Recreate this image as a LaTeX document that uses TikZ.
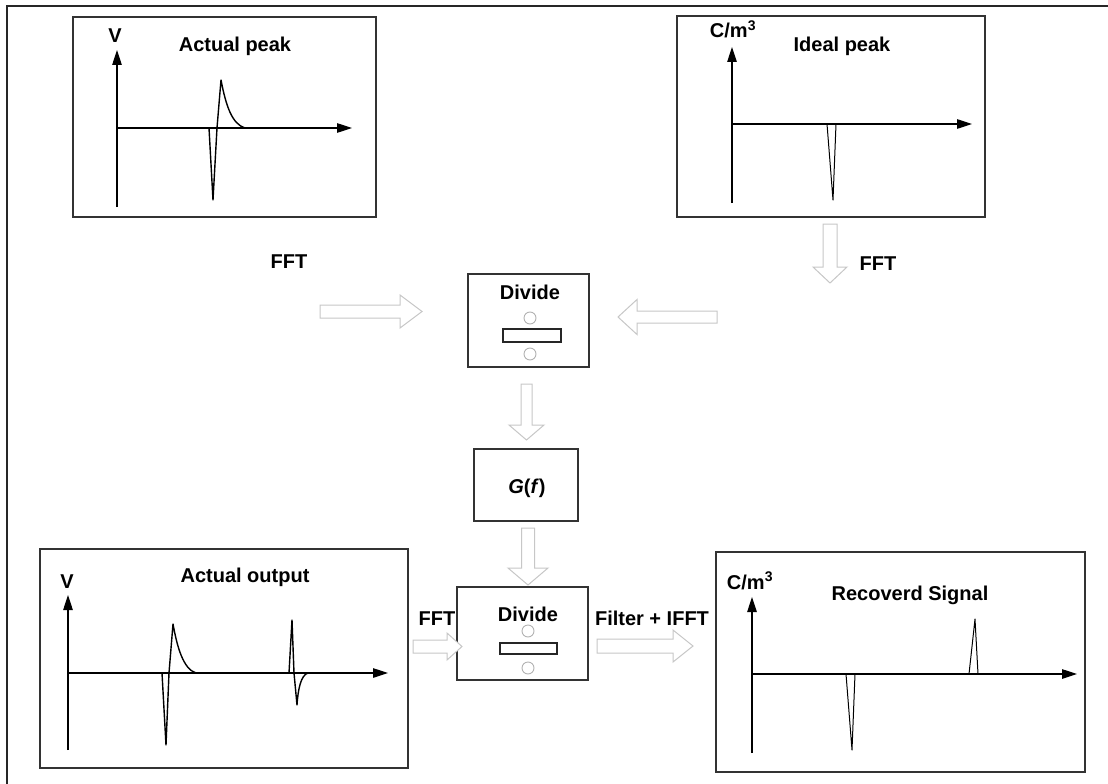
\documentclass[tikz,border=0pt]{standalone}
\usepackage{fontspec}
\setmainfont{Liberation Sans}
\usetikzlibrary{calc,arrows.meta}

% hollow block arrow: tail, tip, half shaft width, half head width, head length
\newcommand\hollowarrow[5]{%
  \coordinate (hs) at ($(#2)!#5!(#1)$);
  \draw[hollow] ($(#1)!#3!90:(#2)$) -- ($(hs)!#3!90:(#2)$) -- ($(hs)!#4!90:(#2)$)
    -- (#2) -- ($(hs)!#4!-90:(#2)$) -- ($(hs)!#3!-90:(#2)$) -- ($(#1)!#3!-90:(#2)$) -- cycle;
}

\begin{document}
\begin{tikzpicture}[x=1pt,y=-1pt,
  box/.style={draw=black!80, line width=1.3pt, inner sep=0pt, outer sep=0pt},
  lbl/.style={font=\fontsize{20}{22}\selectfont\bfseries, inner sep=0pt, anchor=base},
  axis/.style={line width=1.1pt, -{Triangle[length=15pt,width=9.5pt]}},
  sig/.style={line width=1.4pt, line join=round},
  spike/.style={line width=1pt, line join=round},
  hollow/.style={draw=black!22, line width=1pt, fill=white},
  ring/.style={draw=black!30, line width=0.9pt},
  bar/.style={draw=black!85, line width=1.2pt},
]
\useasboundingbox (0,0) rectangle (1108,784);

% outer frame
\draw[line width=1.4pt, black!85] (7,784) -- (7,6) -- (1108,6);

% ---------- boxes ----------
\node[box, minimum width=303, minimum height=200] (peak)  at (224.5,117) {};
\node[box, minimum width=308, minimum height=201] (ideal) at (831,116.5) {};
\node[box, minimum width=121, minimum height=93]  (div1)  at (528.5,320.5) {};
\node[box, minimum width=104, minimum height=72]  (gf)    at (526,485) {};
\node[box, minimum width=131, minimum height=93]  (div2)  at (522.5,633.5) {};
\node[box, minimum width=368, minimum height=219] (out)   at (224,658.5) {};
\node[box, minimum width=369, minimum height=220] (rec)   at (900.5,662) {};

% ---------- Actual peak ----------
\node[lbl] (peakT) at (235,52) {Actual peak};
\node[lbl] (peakV) at (115,43) {V};
\draw[axis] (117,207) -- (117,50);
\draw[axis] (117,128) -- (352,128);
\draw[sig] (209,128) -- (213,200) -- (217,128) -- (221,80)
  .. controls (226,106) and (232,124) .. (245,128);

% ---------- Ideal peak ----------
\node[lbl] (idealT) at (842,52) {Ideal peak};
\node[lbl] (idealU) at (733,38) {C/m\textsuperscript{3}};
\draw[axis] (732,203) -- (732,47);
\draw[axis] (732,124) -- (972,124);
\draw[spike] (827,124) -- (833,200) -- (836,124);

% ---------- Divide (upper) ----------
\node[lbl] (div1T) at (530,299) {Divide};
\draw[ring] (530,318) circle (6);
\draw[bar] (503,329) rectangle (561,342);
\draw[ring] (530,354) circle (6);

% ---------- G(f) ----------
\node[lbl] (gfT) at (527,493) {\textit{G}(\textit{f})};

% ---------- Divide (lower) ----------
\node[lbl] (div2T) at (528,621) {Divide};
\draw[ring] (528,631) circle (6);
\draw[bar] (500,643) rectangle (557,654);
\draw[ring] (528,668) circle (6);

% ---------- Actual output ----------
\node[lbl] (outT) at (245,582) {Actual output};
\node[lbl] (outV) at (67,588) {V};
\draw[axis] (68,750) -- (68,595);
\draw[axis] (68,673) -- (388,673);
\draw[sig] (162,673) -- (166,745) -- (169,673) -- (173,624)
  .. controls (177,646) and (183,669) .. (196,673);
\draw[sig] (289,673) -- (292,620) -- (294,673) -- (297,705)
  .. controls (298,689) and (301,675) .. (308,673);

% ---------- Recovered signal ----------
\node[lbl] (recT) at (910,600) {Recoverd Signal};
\node[lbl] (recU) at (750,589) {C/m\textsuperscript{3}};
\draw[axis] (752,753) -- (752,597);
\draw[axis] (752,674) -- (1077,674);
\draw[spike] (846,674) -- (852,750) -- (855,674);
\draw[spike] (969,674) -- (975,619) -- (978,674);

% ---------- labels on the flow ----------
\node[lbl] (fft1) at (289,268) {FFT};
\node[lbl] (fft2) at (878,270) {FFT};
\node[lbl] (fft3) at (437,625) {FFT};
\node[lbl] (filt) at (652,625) {Filter + IFFT};

% ---------- hollow flow arrows ----------
\coordinate (a1s) at (320,311.5); \coordinate (a1e) at (422,311.5);
\coordinate (a2s) at (717,317);   \coordinate (a2e) at (618,317);
\coordinate (a3s) at (830,224);   \coordinate (a3e) at (830,283);
\coordinate (a4s) at (526.5,384); \coordinate (a4e) at (526.5,440);
\coordinate (a5s) at (528,528);   \coordinate (a5e) at (528,585);
\coordinate (a6s) at (413,646.5); \coordinate (a6e) at (462,646.5);
\coordinate (a7s) at (597,646);   \coordinate (a7e) at (693,646);
\hollowarrow{a1s}{a1e}{6.5pt}{16.5pt}{22pt}
\hollowarrow{a2s}{a2e}{6pt}{17.5pt}{19pt}
\hollowarrow{a3s}{a3e}{7pt}{17pt}{16pt}
\hollowarrow{a4s}{a4e}{5.5pt}{17.5pt}{15pt}
\hollowarrow{a5s}{a5e}{6.5pt}{20pt}{17pt}
\hollowarrow{a6s}{a6e}{6.5pt}{13.5pt}{15pt}
\hollowarrow{a7s}{a7e}{7pt}{16pt}{20pt}
\end{tikzpicture}
\end{document}
